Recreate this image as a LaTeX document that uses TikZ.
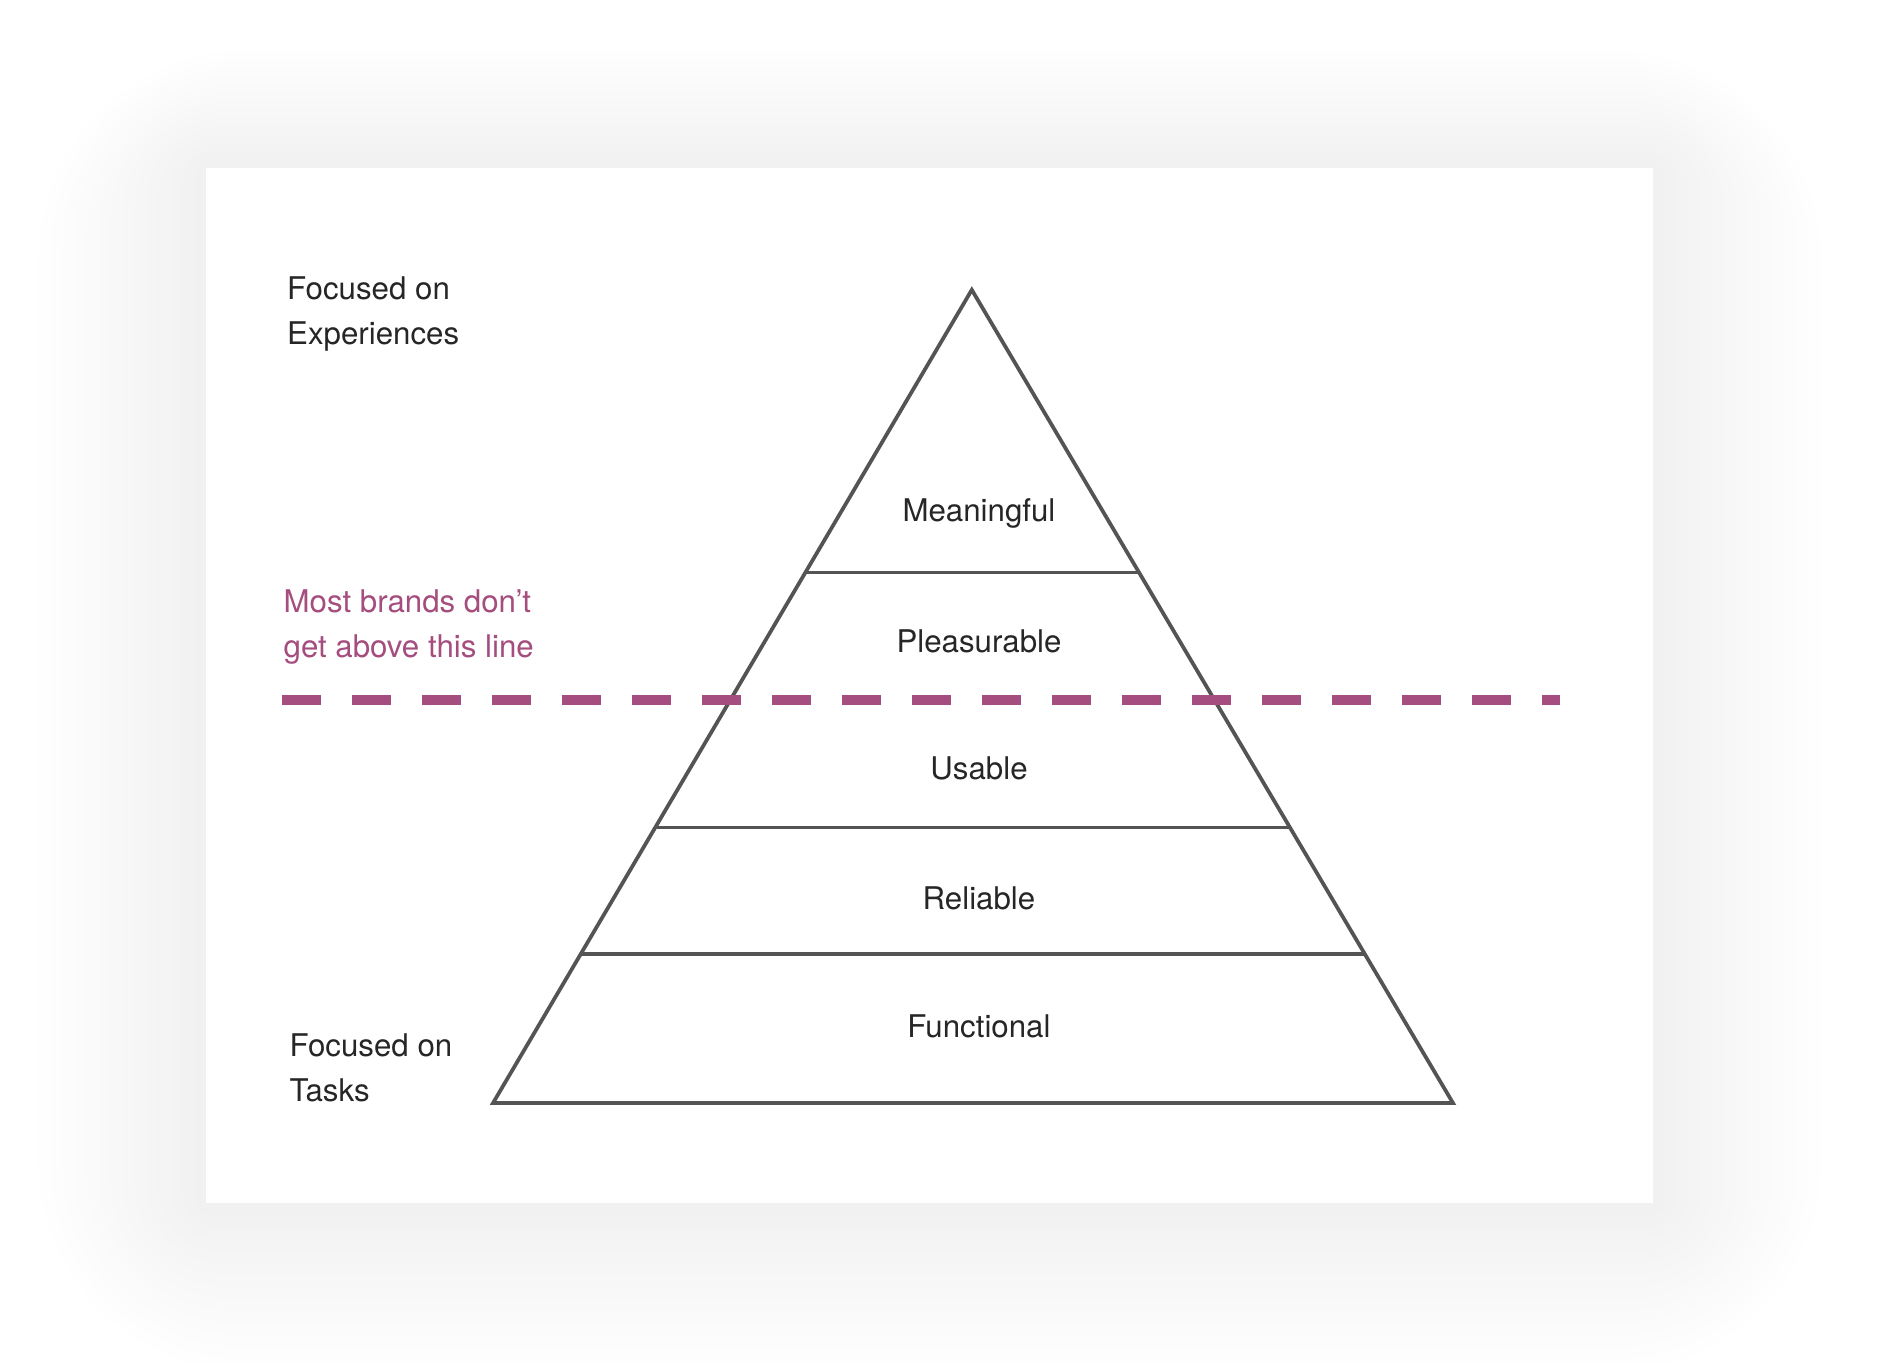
\documentclass[tikz,border=0pt]{standalone}
\usepackage{fontspec}
\setmainfont{TeX Gyre Heros}
\definecolor{brandc}{HTML}{A44D7E}
\begin{document}
\begin{tikzpicture}[x={(0.4799pt,0)},y={(0,-0.4811pt)},
  lbl/.style={font=\fontsize{12.5}{15}\selectfont,text=black!85,inner sep=0pt},
  side/.style={lbl,anchor=west,align=left},
  pyr/.style={draw=black!67,line width=1.5pt,line join=miter},
  brand/.style={draw=brandc,line width=3.9pt,dash pattern=on 15.5pt off 12.5pt}]
\useasboundingbox (0,0) rectangle (1567,1134);
\fill[white] (0,0) rectangle (1567,1134);
% shadow
\foreach \i in {1,...,14}{
  \fill[black,opacity=0.005,rounded corners=\i*6] ({172-\i*10},{140-\i*7}) rectangle ({1378+\i*10},{1000+\i*10});
}
\fill[white] (172,140) rectangle (1378,1000);
% pyramid
\coordinate (apex) at (810,241);
\coordinate (bl) at (411,917);
\coordinate (br) at (1211,917);
\coordinate (a1) at (673,476); \coordinate (b1) at (950,476);
\coordinate (a2) at (548,688); \coordinate (b2) at (1074,688);
\coordinate (a3) at (485,793); \coordinate (b3) at (1137,793);
\draw[pyr] (apex) -- (bl) -- (br) -- cycle;
\draw[pyr] (a1) -- (b1);
\draw[pyr] (a2) -- (b2);
\draw[pyr] (a3) -- (b3);
\coordinate (d1) at (235,582); \coordinate (d2) at (1300,582);
\draw[brand] (d1) -- (d2);
\node[lbl] (m) at (816,427) {Meaningful};
\node[lbl] (p) at (816,533) {Pleasurable};
\node[lbl] (u) at (816,639) {Usable};
\node[lbl] (r) at (816,747) {Reliable};
\node[lbl] (f) at (816,853) {Functional};
\node[side] (fe) at (239,261) {Focused on\\[3pt]Experiences};
\node[side] (ft) at (241,888) {Focused on\\[3pt]Tasks};
\node[side,text=brandc] (mb) at (236,521) {Most brands don’t\\[3pt]get above this line};
\end{tikzpicture}
\end{document}
